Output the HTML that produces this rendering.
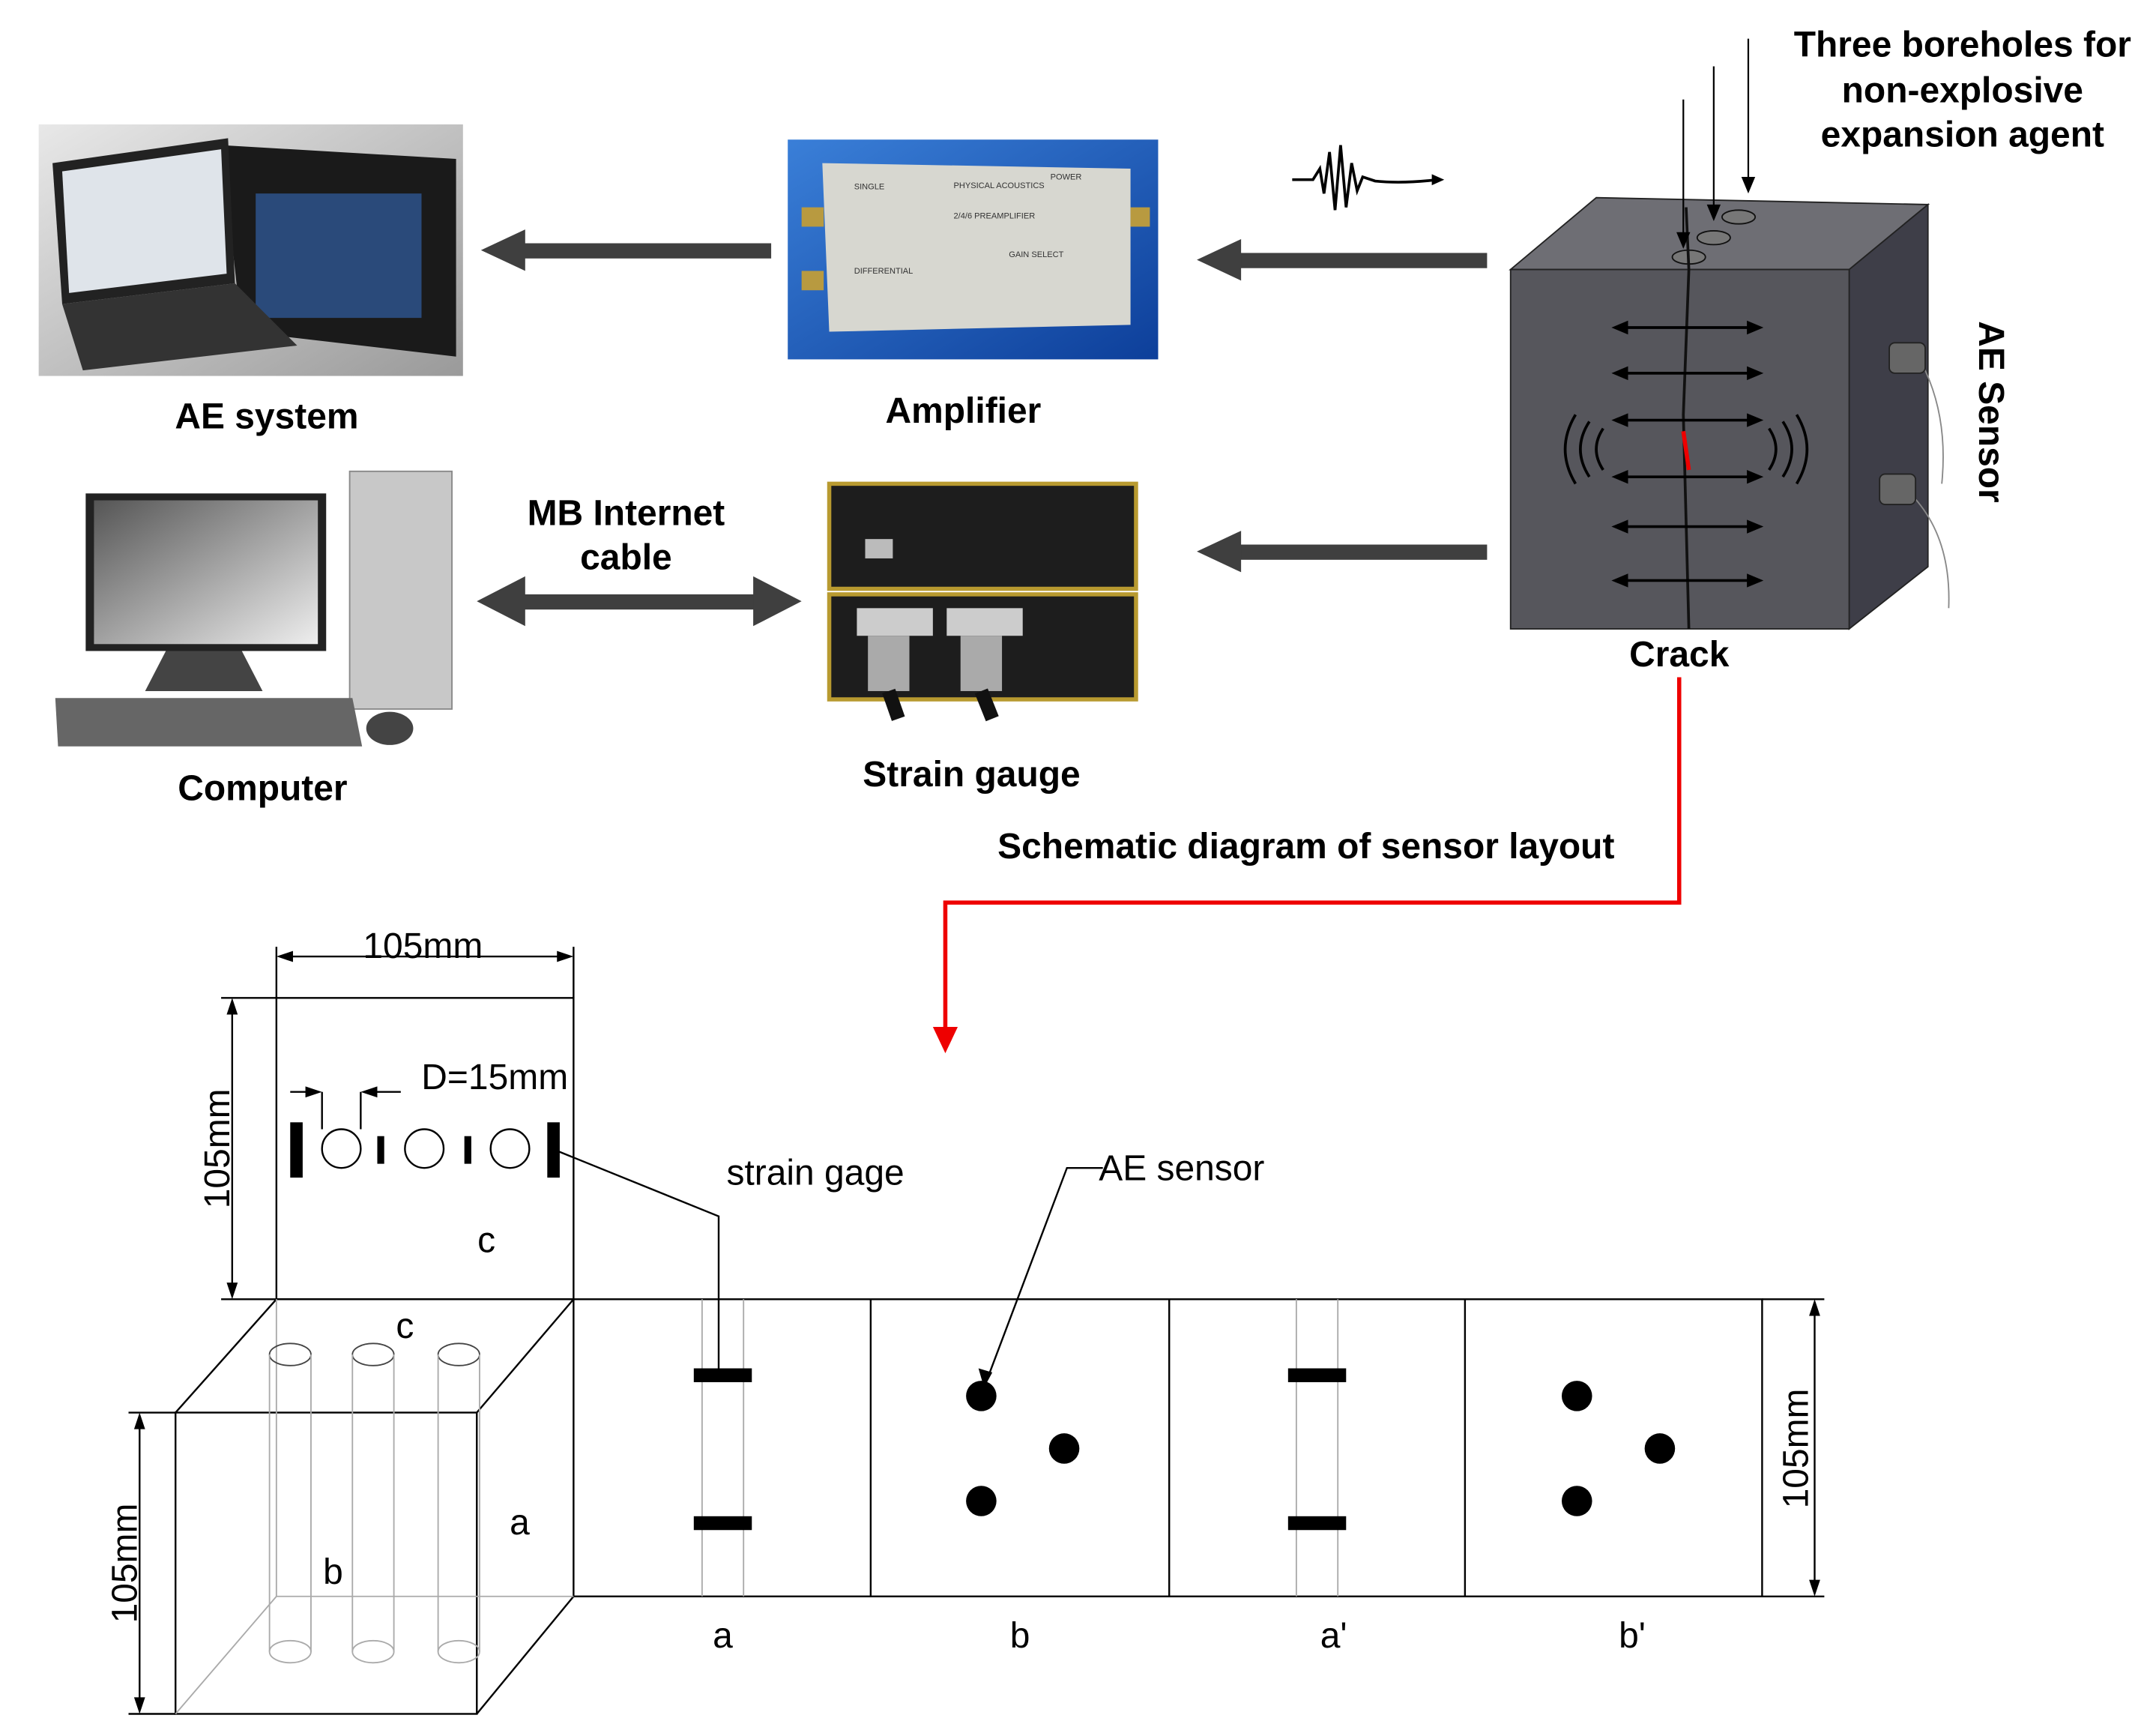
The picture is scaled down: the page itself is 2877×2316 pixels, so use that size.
<!DOCTYPE html>
<html><head><meta charset="utf-8"><style>
html,body{margin:0;padding:0;background:#fff;}
svg{display:block;}
</style></head><body>
<svg width="2877" height="2316" viewBox="0 0 1560 1256" preserveAspectRatio="none" xmlns="http://www.w3.org/2000/svg">
<defs>
<linearGradient id="lapbg" x1="0" y1="0" x2="1" y2="1"><stop offset="0" stop-color="#e8e8e8"/><stop offset="1" stop-color="#9a9a9a"/></linearGradient>
<linearGradient id="blue" x1="0" y1="0" x2="1" y2="1"><stop offset="0" stop-color="#3a7fd8"/><stop offset="1" stop-color="#0d3f9a"/></linearGradient>
<linearGradient id="scr" x1="0" y1="0" x2="1" y2="1"><stop offset="0" stop-color="#555"/><stop offset="1" stop-color="#eee"/></linearGradient>
</defs>
<g font-family="Liberation Sans, sans-serif">
<rect x="28" y="90" width="307" height="182" fill="url(#lapbg)"/>
<polygon points="160,105 330,115 330,258 175,240" fill="#1a1a1a"/>
<rect x="185" y="140" width="120" height="90" fill="#2a4a7a"/>
<polygon points="38,118 165,100 170,205 45,220" fill="#222"/>
<polygon points="45,124 160,108 164,198 50,212" fill="#dfe4ea"/>
<polygon points="45,220 170,205 215,250 60,268" fill="#333"/>
<g fill="#3f3f3f">
<rect x="375" y="176" width="183" height="11"/><polygon points="348,181 380,166 380,196"/>
<rect x="893" y="183" width="183" height="11"/><polygon points="866,188 898,173 898,203"/>
<rect x="893" y="394" width="183" height="11"/><polygon points="866,399 898,384 898,414"/>
<rect x="372" y="430" width="180" height="11"/><polygon points="345,435 380,417 380,453"/><polygon points="580,435 545,417 545,453"/>
</g>
<rect x="570" y="101" width="268" height="159" fill="url(#blue)"/>
<polygon points="595,118 818,122 818,235 600,240" fill="#d7d7d0"/>
<rect x="580" y="150" width="16" height="14" fill="#b89a40"/><rect x="580" y="196" width="16" height="14" fill="#b89a40"/><rect x="818" y="150" width="14" height="14" fill="#b89a40"/>
<g font-size="6" fill="#333"><text x="618" y="137">SINGLE</text><text x="690" y="136">PHYSICAL ACOUSTICS</text><text x="690" y="158">2/4/6 PREAMPLIFIER</text><text x="760" y="130">POWER</text><text x="618" y="198">DIFFERENTIAL</text><text x="730" y="186">GAIN SELECT</text></g>
<path d="M935,130 L950,130 L955,122 L958,140 L962,110 L966,152 L970,105 L974,150 L978,118 L982,138 L986,128 L995,131 Q1015,133 1040,130" fill="none" stroke="#000" stroke-width="2"/>
<polygon points="1045,130 1036,126 1036,134"/>
<polygon points="1093,195 1155,143 1395,148 1338,195" fill="#6e6e74" stroke="#222"/>
<polygon points="1338,195 1395,148 1395,410 1338,455" fill="#3e3e48" stroke="#222"/>
<rect x="1093" y="195" width="245" height="260" fill="#56565c" stroke="#222"/>
<g fill="#777" stroke="#111"><ellipse cx="1222" cy="186" rx="12" ry="5"/><ellipse cx="1240" cy="172" rx="12" ry="5"/><ellipse cx="1258" cy="157" rx="12" ry="5"/></g>
<path d="M1220,150 L1222,195 L1218,300 L1222,455" stroke="#111" stroke-width="2" fill="none"/>
<path d="M1218,312 L1222,340" stroke="#e00" stroke-width="3"/>
<g stroke="#000" stroke-width="2" fill="#000">
<line x1="1172" y1="237" x2="1270" y2="237"/><line x1="1172" y1="270" x2="1270" y2="270"/><line x1="1172" y1="304" x2="1270" y2="304"/><line x1="1172" y1="345" x2="1270" y2="345"/><line x1="1172" y1="381" x2="1270" y2="381"/><line x1="1172" y1="420" x2="1270" y2="420"/>
</g>
<g fill="#000">
<polygon points="1166,237 1178,232 1178,242"/><polygon points="1276,237 1264,232 1264,242"/>
<polygon points="1166,270 1178,265 1178,275"/><polygon points="1276,270 1264,265 1264,275"/>
<polygon points="1166,304 1178,299 1178,309"/><polygon points="1276,304 1264,299 1264,309"/>
<polygon points="1166,345 1178,340 1178,350"/><polygon points="1276,345 1264,340 1264,350"/>
<polygon points="1166,381 1178,376 1178,386"/><polygon points="1276,381 1264,376 1264,386"/>
<polygon points="1166,420 1178,415 1178,425"/><polygon points="1276,420 1264,415 1264,425"/>
<polygon points="1218,180 1213,168 1223,168"/><polygon points="1240,160 1235,148 1245,148"/><polygon points="1265,140 1260,128 1270,128"/>
</g>
<g fill="none" stroke="#000" stroke-width="2">
<path d="M1140,300 Q1125,325 1140,350"/><path d="M1150,305 Q1137,325 1150,345"/><path d="M1160,310 Q1150,325 1160,340"/>
<path d="M1300,300 Q1315,325 1300,350"/><path d="M1290,305 Q1303,325 1290,345"/><path d="M1280,310 Q1290,325 1280,340"/>
</g>
<g fill="none" stroke="#888" stroke-width="1"><path d="M1390,262 Q1410,300 1405,350"/><path d="M1385,360 Q1412,390 1410,440"/></g>
<rect x="1367" y="248" width="26" height="22" rx="4" fill="#666" stroke="#222"/><rect x="1360" y="343" width="26" height="22" rx="4" fill="#666" stroke="#222"/>
<g stroke="#000" stroke-width="1.2"><line x1="1218" y1="72" x2="1218" y2="170"/><line x1="1240" y1="48" x2="1240" y2="150"/><line x1="1265" y1="28" x2="1265" y2="130"/></g>
<g font-size="26" font-weight="bold" text-anchor="middle" fill="#000">
<text x="1420" y="41">Three boreholes for</text><text x="1420" y="74">non-explosive</text><text x="1420" y="106">expansion agent</text>
<text x="193" y="310">AE system</text><text x="697" y="306">Amplifier</text>
<text x="453" y="380">MB Internet</text><text x="453" y="412">cable</text>
<text x="190" y="579">Computer</text><text x="703" y="569">Strain gauge</text>
<text x="1215" y="482">Crack</text><text x="945" y="621">Schematic diagram of sensor layout</text>
<text transform="translate(1432,298) rotate(90)">AE Sensor</text>
</g>
<rect x="62" y="357" width="174" height="114" fill="#222"/><rect x="68" y="362" width="162" height="104" fill="url(#scr)"/>
<polygon points="120,471 175,471 190,500 105,500" fill="#444"/>
<rect x="253" y="341" width="74" height="172" fill="#c8c8c8" stroke="#888"/>
<polygon points="40,505 255,505 262,540 42,540" fill="#666"/>
<ellipse cx="282" cy="527" rx="17" ry="12" fill="#444"/>
<rect x="600" y="350" width="222" height="76" fill="#1d1d1d" stroke="#b89a30" stroke-width="3"/>
<rect x="600" y="430" width="222" height="76" fill="#1d1d1d" stroke="#b89a30" stroke-width="3"/>
<rect x="626" y="390" width="20" height="14" fill="#bbb"/>
<rect x="620" y="440" width="55" height="20" fill="#ccc"/><rect x="685" y="440" width="55" height="20" fill="#ccc"/>
<rect x="628" y="460" width="30" height="40" fill="#aaa"/><rect x="695" y="460" width="30" height="40" fill="#aaa"/>
<path d="M643,500 L650,520 M710,500 L718,520" stroke="#111" stroke-width="10"/>
<path d="M1215,490 L1215,653 L684,653 L684,745" fill="none" stroke="#e00" stroke-width="3"/>
<polygon points="684,762 675,743 693,743" fill="#e00"/>
<g stroke="#000" stroke-width="1.3" fill="none">
<rect x="200" y="722" width="215" height="218"/>
<line x1="200" y1="685" x2="200" y2="722"/><line x1="415" y1="685" x2="415" y2="722"/>
<line x1="208" y1="692" x2="407" y2="692"/>
<line x1="160" y1="722" x2="200" y2="722"/><line x1="160" y1="940" x2="200" y2="940"/>
<line x1="168" y1="730" x2="168" y2="932"/>
<circle cx="247" cy="831" r="14"/><circle cx="307" cy="831" r="14"/><circle cx="369" cy="831" r="14"/>
<line x1="233" y1="790" x2="233" y2="817"/><line x1="261" y1="790" x2="261" y2="817"/>
<line x1="210" y1="790" x2="228" y2="790"/><line x1="266" y1="790" x2="290" y2="790"/>
<polyline points="404,833 520,880 520,998"/>
<polyline points="798,845 772,845 712,1004"/>
<rect x="415" y="940" width="860" height="215"/>
<line x1="630" y1="940" x2="630" y2="1155"/><line x1="846" y1="940" x2="846" y2="1155"/><line x1="1060" y1="940" x2="1060" y2="1155"/>
<line x1="1275" y1="940" x2="1320" y2="940"/><line x1="1275" y1="1155" x2="1320" y2="1155"/>
<line x1="1313" y1="948" x2="1313" y2="1147"/>
<rect x="127" y="1022" width="218" height="218"/>
<line x1="127" y1="1022" x2="200" y2="940"/><line x1="200" y1="940" x2="415" y2="940"/><line x1="345" y1="1022" x2="415" y2="940"/><line x1="345" y1="1240" x2="415" y2="1155"/>
<line x1="93" y1="1022" x2="127" y2="1022"/><line x1="93" y1="1240" x2="127" y2="1240"/>
<line x1="101" y1="1030" x2="101" y2="1232"/>
</g>
<g stroke="#aaa" stroke-width="1" fill="none">
<line x1="127" y1="1240" x2="200" y2="1155"/><line x1="200" y1="1155" x2="415" y2="1155"/><line x1="200" y1="940" x2="200" y2="1155"/>
<ellipse cx="210" cy="980" rx="15" ry="8" stroke="#444"/><ellipse cx="270" cy="980" rx="15" ry="8" stroke="#444"/><ellipse cx="332" cy="980" rx="15" ry="8" stroke="#444"/>
<ellipse cx="210" cy="1195" rx="15" ry="8"/><ellipse cx="270" cy="1195" rx="15" ry="8"/><ellipse cx="332" cy="1195" rx="15" ry="8"/>
<line x1="195" y1="980" x2="195" y2="1195"/><line x1="225" y1="980" x2="225" y2="1195"/><line x1="255" y1="980" x2="255" y2="1195"/><line x1="285" y1="980" x2="285" y2="1195"/><line x1="317" y1="980" x2="317" y2="1195"/><line x1="347" y1="980" x2="347" y2="1195"/>
<line x1="508" y1="940" x2="508" y2="1155"/><line x1="538" y1="940" x2="538" y2="1155"/><line x1="938" y1="940" x2="938" y2="1155"/><line x1="968" y1="940" x2="968" y2="1155"/>
</g>
<g fill="#000">
<polygon points="200,692 212,688 212,696"/><polygon points="415,692 403,688 403,696"/>
<polygon points="168,722 164,734 172,734"/><polygon points="168,940 164,928 172,928"/>
<polygon points="233,790 221,786 221,794"/><polygon points="261,790 273,786 273,794"/>
<polygon points="1313,940 1309,952 1317,952"/><polygon points="1313,1155 1309,1143 1317,1143"/>
<polygon points="101,1022 97,1034 105,1034"/><polygon points="101,1240 97,1228 105,1228"/>
<polygon points="712,1004 708,990 718,993"/>
<rect x="210" y="812" width="9" height="40"/><rect x="273" y="822" width="5" height="20"/><rect x="336" y="822" width="5" height="20"/><rect x="396" y="812" width="9" height="40"/>
<rect x="502" y="990" width="42" height="10"/><rect x="502" y="1097" width="42" height="10"/><rect x="932" y="990" width="42" height="10"/><rect x="932" y="1097" width="42" height="10"/>
<circle cx="710" cy="1010" r="11"/><circle cx="770" cy="1048" r="11"/><circle cx="710" cy="1086" r="11"/>
<circle cx="1141" cy="1010" r="11"/><circle cx="1201" cy="1048" r="11"/><circle cx="1141" cy="1086" r="11"/>
</g>
<g font-size="26" fill="#000" text-anchor="middle">
<text x="306" y="693">105mm</text><text x="358" y="788">D=15mm</text>
<text x="590" y="857">strain gage</text><text x="855" y="854">AE sensor</text>
<text x="352" y="906">c</text><text x="293" y="968">c</text><text x="376" y="1110">a</text><text x="241" y="1146">b</text>
<text x="523" y="1192">a</text><text x="738" y="1192">b</text><text x="965" y="1192">a'</text><text x="1181" y="1192">b'</text>
<text transform="translate(166,831) rotate(-90)">105mm</text>
<text transform="translate(99,1131) rotate(-90)">105mm</text>
<text transform="translate(1308,1048) rotate(-90)">105mm</text>
</g>
</g>
</svg>
</body></html>
